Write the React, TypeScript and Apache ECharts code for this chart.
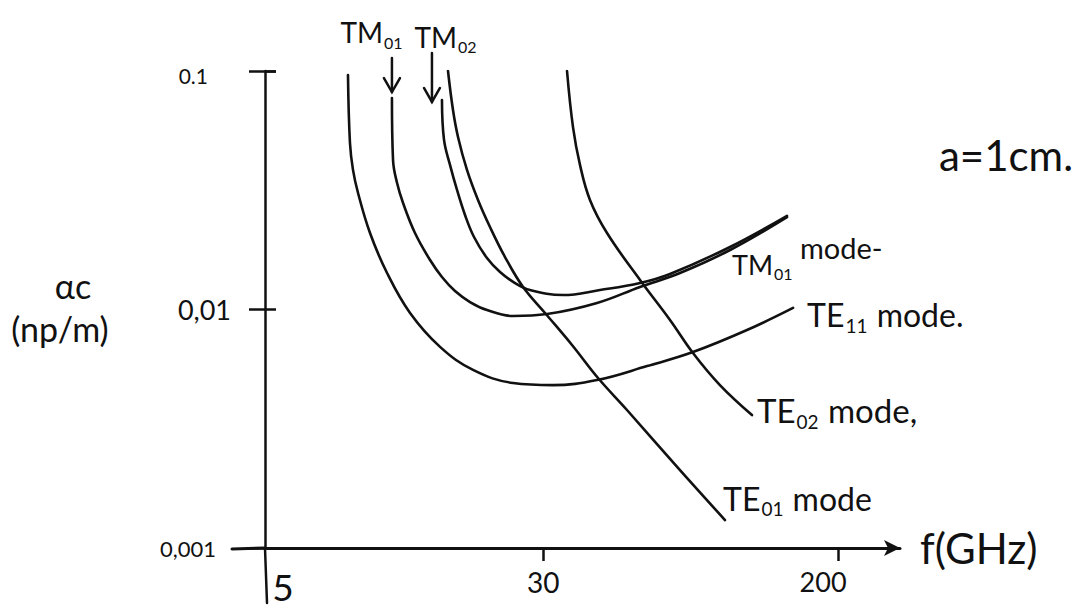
import { useEffect, useRef } from "react";
import * as echarts from "echarts";

// ---------- axes ----------
const FREQ_TICKS = [5, 30, 200]; // GHz
const FREQ_TICK_LABELS = ["5", "30", "200"];
const ALPHA_TICKS = [0.001, 0.01, 0.1]; // Np/m
const ALPHA_TICK_LABELS = ["0,001", "0,01", "0.1"];
const FREQ_MIN = 5;
const FREQ_MAX = 298;
const ALPHA_MIN = 0.001;
const ALPHA_MAX = 0.1;

// ---------- curves: f (GHz) vs alpha_c (Np/m), a = 1 cm ----------
const TE11_F = [8.53, 8.64, 8.81, 9.1, 9.83, 10.97, 12.72, 15.43, 19.08, 24.68, 31.92, 42.39, 58.5, 78.6, 111.3, 149.7];
const TE11_A = [0.0962, 0.0499, 0.0385, 0.0308, 0.02093, 0.01422, 0.00967, 0.00697, 0.00558, 0.00492, 0.00482, 0.00506, 0.00579, 0.00663, 0.0082, 0.01015];

const TM01_F = [11.32, 11.4, 11.7, 12.16, 13.13, 14.47, 15.62, 16.99, 18.71, 20.87, 24.68, 30.72, 42.39, 55.9, 72.3, 99.8, 144.0];
const TM01_A = [0.077, 0.0423, 0.0339, 0.02796, 0.02093, 0.01612, 0.01368, 0.01195, 0.01075, 0.00995, 0.00939, 0.00957, 0.01065, 0.01243, 0.01422, 0.01776, 0.0244];

const TM02_F = [15.62, 15.83, 16.45, 17.21, 18.12, 19.2, 20.87, 22.7, 25.0, 27.53, 34.05, 43.2, 55.9, 67.8, 99.8, 144.0];
const TM02_A = [0.0756, 0.0514, 0.0404, 0.0317, 0.0249, 0.02014, 0.01644, 0.01436, 0.01291, 0.01207, 0.0115, 0.01207, 0.01291, 0.01409, 0.01829, 0.0247];

const TE01_F = [16.24, 16.77, 17.32, 18.35, 19.7, 21.28, 23.44, 26.33, 30.33, 36.08, 42.66, 51.4, 72.3, 96.6];
const TE01_A = [0.1, 0.0686, 0.0529, 0.0385, 0.0288, 0.02218, 0.0166, 0.01243, 0.00967, 0.0071, 0.00516, 0.00379, 0.00212, 0.00131];

const TE02_F = [34.94, 36.31, 37.98, 40.5, 45.2, 55.9, 67.8, 78.6, 93.5, 114.9];
const TE02_A = [0.1, 0.0582, 0.0404, 0.0288, 0.02093, 0.0133, 0.00904, 0.00657, 0.00482, 0.00361];

const CURVES: { name: string; f: number[]; a: number[] }[] = [
  { name: "TE11", f: TE11_F, a: TE11_A },
  { name: "TM01", f: TM01_F, a: TM01_A },
  { name: "TM02", f: TM02_F, a: TM02_A },
  { name: "TE01", f: TE01_F, a: TE01_A },
  { name: "TE02", f: TE02_F, a: TE02_A },
];

// ---------- annotation texts ----------
const PARAM_TEXT = "a=1cm.";
const Y_NAME_1 = "αc";
const Y_NAME_2 = "(np/m)";
const X_NAME = "f(GHz)";

// annotations anchored at curve ends (offsets are layout only)
const END_LABELS = [
  { series: "TE11", at: "last", dx: 14, dy: 9, size: 32, text: "{n|TE}{s|11}{n| mode.}" },
  { series: "TM01", at: "last", dx: -55, dy: 49, size: 27, text: "{n|TM}{s|01}" },
  { series: "TM01", at: "last", dx: 13, dy: 32, size: 29, text: "{n|mode-}" },
  { series: "TE02", at: "last", dx: 5, dy: -3, size: 33, text: "{n|TE}{s|02}{n| mode,}" },
  { series: "TE01", at: "last", dx: -2, dy: -20, size: 32, text: "{n|TE}{s|01}{n| mode}" },
];
const TOP_MARKERS = [
  { series: "TM01", arrowDx: 0, arrowTop: -40, arrowTip: -6, labelDx: -20, labelDy: -64, text: "{n|TM}{s|01}" },
  { series: "TM02", arrowDx: -10, arrowTop: -47, arrowTip: 2, labelDx: 4, labelDy: -61, text: "{n|TM}{s|02}" },
];

const INK = "#111";
const FONT = "Lato, 'Open Sans', 'DejaVu Sans', sans-serif";

function idxOf(list: number[], v: number) {
  for (let i = 0; i < list.length; i++) {
    if (Math.abs(Math.log10(v) - Math.log10(list[i])) < 1e-6) return i;
  }
  return -1;
}

function rich(size: number) {
  return {
    n: { fontSize: size, fontFamily: FONT, fill: INK, verticalAlign: "bottom", padding: [0, 0, 4, 0] },
    s: { fontSize: Math.round(size * 0.58), fontFamily: FONT, fill: INK, verticalAlign: "bottom", padding: [0, 1, 0, 1] },
  };
}

function buildOption(): any {
  return {
    animation: false,
    backgroundColor: "#ffffff",
    textStyle: { fontFamily: FONT, color: INK },
    grid: { left: 265, right: 180, top: 71, bottom: 63, containLabel: false, outerBoundsMode: "none" },
    xAxis: [
      {
        type: "log",
        min: FREQ_MIN,
        max: FREQ_MAX,
        name: X_NAME,
        nameLocation: "end",
        nameGap: 20,
        nameTextStyle: { fontSize: 42, fontFamily: FONT, color: INK, verticalAlign: "middle", padding: [0, 0, 14, 0] },
        axisLine: { show: true, lineStyle: { color: INK, width: 3 }, symbol: ["none", "arrow"], symbolSize: [12, 16] },
        axisTick: { show: true, inside: false, length: 13, customValues: FREQ_TICKS.slice(1), lineStyle: { color: INK, width: 2.5 } },
        axisLabel: {
          show: true,
          customValues: FREQ_TICKS,
          margin: 20,
          color: INK,
          fontFamily: FONT,
          formatter: (v: number) => {
            const i = idxOf(FREQ_TICKS, v);
            return i < 0 ? "" : `{x${i}|${FREQ_TICK_LABELS[i]}}`;
          },
          rich: {
            x0: { fontSize: 37, fontFamily: FONT, color: INK, padding: [0, 0, 0, 36] },
            x1: { fontSize: 28, fontFamily: FONT, color: INK },
            x2: { fontSize: 27, fontFamily: FONT, color: INK, padding: [0, 30, 0, 0] },
          },
        },
        splitLine: { show: false },
        minorTick: { show: false },
      },
    ],
    yAxis: [
      {
        type: "log",
        min: ALPHA_MIN,
        max: ALPHA_MAX,
        axisLine: { show: true, lineStyle: { color: INK, width: 2.5 } },
        axisTick: { show: true, inside: false, length: 16, lineStyle: { color: INK, width: 2.5 } },
        axisLabel: {
          show: true,
          margin: 34,
          color: INK,
          fontFamily: FONT,
          formatter: (v: number) => {
            const i = idxOf(ALPHA_TICKS, v);
            return i < 0 ? "" : `{y${i}|${ALPHA_TICK_LABELS[i]}}`;
          },
          rich: {
            y0: { fontSize: 22, fontFamily: FONT, color: INK, padding: [0, 15, 0, 0] },
            y1: { fontSize: 27, fontFamily: FONT, color: INK },
            y2: { fontSize: 21, fontFamily: FONT, color: INK, padding: [8, 23, 0, 0] },
          },
        },
        splitLine: { show: false },
      },
      {
        type: "log",
        min: ALPHA_MIN,
        max: ALPHA_MAX,
        position: "left",
        axisLine: { show: false },
        axisTick: { show: true, inside: true, length: 11, lineStyle: { color: INK, width: 2.5 } },
        axisLabel: { show: false },
        splitLine: { show: false },
      },
    ],
    series: CURVES.map((c) => ({
      name: c.name,
      type: "line",
      xAxisIndex: 0,
      yAxisIndex: 0,
      smooth: 0.4,
      showSymbol: false,
      symbol: "none",
      lineStyle: { color: INK, width: 2.6, cap: "round", join: "round" },
      data: c.f.map((f, i) => [f, c.a[i]]),
    })),
  };
}

function buildGraphic(chart: any): any[] {
  const toPx = (p: number[]) => chart.convertToPixel({ xAxisIndex: 0, yAxisIndex: 0 }, p) as number[];
  const byName: Record<string, { f: number[]; a: number[] }> = {};
  CURVES.forEach((c) => (byName[c.name] = c));
  const endPx = (name: string, at: string) => {
    const c = byName[name];
    const i = at === "first" ? 0 : c.f.length - 1;
    return toPx([c.f[i], c.a[i]]);
  };
  const stroke = { stroke: INK, lineWidth: 2.5, lineCap: "round", fill: "none" };
  const els: any[] = [];

  const origin = toPx([FREQ_MIN, ALPHA_MIN]);
  // x-axis stub left of the y-axis, y-axis stub below the x-axis
  els.push({ type: "line", silent: true, shape: { x1: origin[0] - 33, y1: origin[1] + 1, x2: origin[0], y2: origin[1] }, style: { ...stroke, lineWidth: 3 } });
  els.push({ type: "line", silent: true, shape: { x1: origin[0], y1: origin[1], x2: origin[0] + 2, y2: origin[1] + 55 }, style: stroke });

  TOP_MARKERS.forEach((m) => {
    const p = endPx(m.series, "first");
    const x = p[0] + m.arrowDx;
    const tip = p[1] + m.arrowTip;
    els.push({ type: "line", silent: true, shape: { x1: x, y1: p[1] + m.arrowTop, x2: x, y2: tip }, style: stroke });
    els.push({ type: "polyline", silent: true, shape: { points: [[x - 8, tip - 14], [x, tip], [x + 8, tip - 14]] }, style: stroke });
    els.push({
      type: "text",
      silent: true,
      x: p[0] + m.labelDx,
      y: p[1] + m.labelDy,
      style: { text: m.text, rich: rich(28), align: "center", verticalAlign: "middle", fill: INK, fontFamily: FONT },
    });
  });

  END_LABELS.forEach((l) => {
    const p = endPx(l.series, l.at);
    els.push({
      type: "text",
      silent: true,
      x: p[0] + l.dx,
      y: p[1] + l.dy,
      style: { text: l.text, rich: rich(l.size), align: "left", verticalAlign: "middle", fill: INK, fontFamily: FONT },
    });
  });

  // parameter note and y-axis name
  els.push({ type: "text", silent: true, x: 1006, y: 155, style: { text: PARAM_TEXT, fontSize: 42, fontFamily: FONT, fill: INK, align: "center", verticalAlign: "middle" } });
  els.push({ type: "text", silent: true, x: 73, y: 285, style: { text: Y_NAME_1, fontSize: 34, fontFamily: FONT, fill: INK, align: "center", verticalAlign: "middle" } });
  els.push({ type: "text", silent: true, x: 60, y: 328, style: { text: Y_NAME_2, fontSize: 34, fontFamily: FONT, fill: INK, align: "center", verticalAlign: "middle" } });
  return els;
}

export default function App() {
  const ref = useRef<HTMLDivElement>(null);
  useEffect(() => {
    const el = ref.current;
    if (!el) return;
    const chart = echarts.init(el, null, { renderer: "svg" });
    chart.setOption(buildOption());
    chart.setOption({ graphic: buildGraphic(chart) });
    return () => chart.dispose();
  }, []);
  return (
    <div
      ref={ref}
      style={{ position: "fixed", left: 0, top: 0, width: 1080, height: 611, background: "#ffffff" }}
    />
  );
}
